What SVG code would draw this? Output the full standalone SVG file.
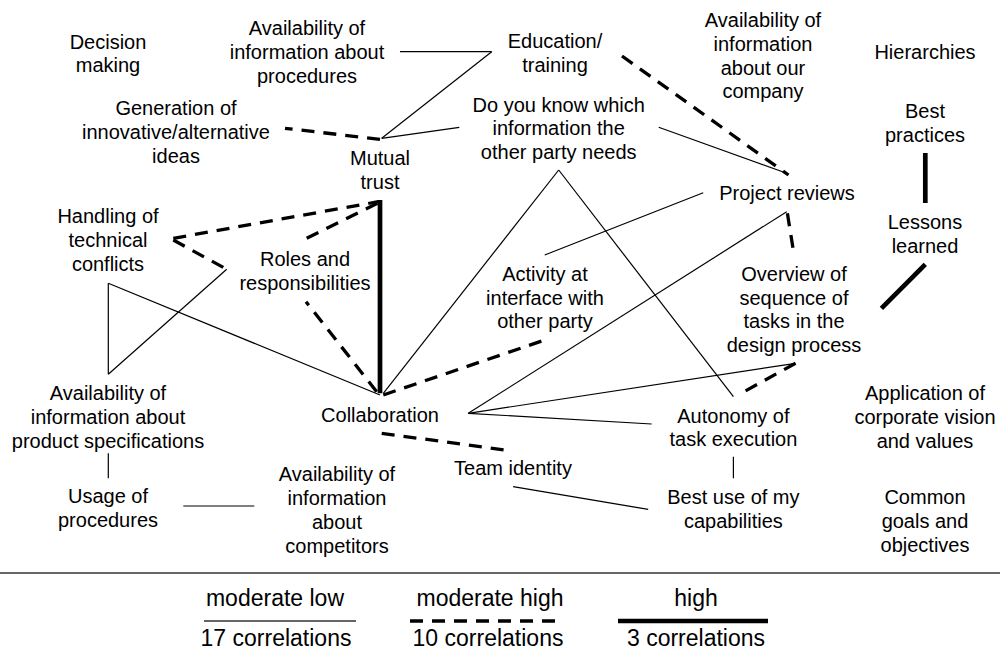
<svg xmlns="http://www.w3.org/2000/svg" width="1000" height="650" viewBox="0 0 1000 650">
<style>
text{font-family:"Liberation Sans",Arial,sans-serif;font-size:20px;fill:#000;text-anchor:middle}
.lg{font-size:23px}
.low{stroke:#000;stroke-width:1.2;fill:none}
.mid{stroke:#000;stroke-width:3.3;stroke-dasharray:13 9;fill:none}
.high{stroke:#000;stroke-width:4.7;fill:none}
</style>
<rect width="1000" height="650" fill="#fff"/>
<g id="connectors">
<line class="low" x1="400" y1="51.7" x2="491.7" y2="51.7"/>
<line class="low" x1="491.7" y1="51.7" x2="381.7" y2="138.3"/>
<line class="low" x1="381.7" y1="138.3" x2="459.3" y2="127.3"/>
<line class="low" x1="658.7" y1="127.3" x2="786.7" y2="173.3"/>
<line class="low" x1="558.7" y1="170" x2="383.3" y2="393.3"/>
<line class="low" x1="558.7" y1="170" x2="733.4" y2="396.7"/>
<line class="low" x1="544.7" y1="255" x2="703.2" y2="192.7"/>
<line class="low" x1="468.3" y1="413.3" x2="786.7" y2="211.7"/>
<line class="low" x1="468.3" y1="413.3" x2="795.5" y2="363.3"/>
<line class="low" x1="468.3" y1="413.3" x2="651.7" y2="424"/>
<line class="low" x1="513.1" y1="486.7" x2="648.2" y2="509.3"/>
<line class="low" x1="733.4" y1="456.7" x2="733.4" y2="478.3"/>
<line class="low" x1="108.3" y1="283.3" x2="108.3" y2="374.3"/>
<line class="low" x1="108.3" y1="374.3" x2="226.7" y2="269.3"/>
<line class="low" x1="108.3" y1="283.3" x2="380" y2="395"/>
<line class="low" x1="183.3" y1="506" x2="254.3" y2="506"/>
<line class="low" x1="108.3" y1="453.3" x2="108.3" y2="478.3"/>
<line class="mid" x1="380" y1="139.3" x2="285" y2="128.3"/>
<line class="mid" x1="622" y1="56" x2="788.5" y2="175"/>
<line class="mid" x1="173.3" y1="238.3" x2="378.3" y2="201.7"/>
<line class="mid" x1="306.7" y1="238.3" x2="378" y2="203"/>
<line class="mid" x1="173.3" y1="240" x2="226.7" y2="269.3"/>
<line class="mid" x1="376.7" y1="391.7" x2="306" y2="301.7"/>
<line class="mid" x1="383.3" y1="395" x2="544.7" y2="340"/>
<line class="mid" x1="787.4" y1="213.3" x2="793" y2="248.3"/>
<line class="mid" x1="795.5" y1="363.3" x2="741.1" y2="393.3"/>
<line class="mid" x1="381.7" y1="433.3" x2="509.6" y2="450.7"/>
<line class="high" x1="380" y1="200" x2="380" y2="393.3"/>
<line class="high" x1="925.3" y1="153" x2="925.3" y2="203"/>
<line class="high" x1="925.3" y1="264.3" x2="881.4" y2="308.3"/>
</g>
<g id="decision-making"><text x="108" y="49">Decision</text><text x="108" y="72">making</text></g>
<g id="avail-procedures"><text x="307" y="35">Availability of</text><text x="307" y="59">information about</text><text x="307" y="83">procedures</text></g>
<g id="education"><text x="555" y="48">Education/</text><text x="555" y="72">training</text></g>
<g id="avail-company"><text x="763" y="27">Availability of</text><text x="763" y="51">information</text><text x="763" y="75">about our</text><text x="763" y="98">company</text></g>
<g id="hierarchies"><text x="925" y="59">Hierarchies</text></g>
<g id="generation"><text x="176" y="115">Generation of</text><text x="176" y="139">innovative/alternative</text><text x="176" y="163">ideas</text></g>
<g id="do-you-know"><text x="558.7" y="112">Do you know which</text><text x="558.7" y="135">information the</text><text x="558.7" y="159">other party needs</text></g>
<g id="best-practices"><text x="925" y="118">Best</text><text x="925" y="142">practices</text></g>
<g id="mutual-trust"><text x="380" y="165">Mutual</text><text x="380" y="189">trust</text></g>
<g id="project-reviews"><text x="787" y="200">Project reviews</text></g>
<g id="handling"><text x="108" y="223">Handling of</text><text x="108" y="247">technical</text><text x="108" y="271">conflicts</text></g>
<g id="lessons"><text x="925" y="229">Lessons</text><text x="925" y="253">learned</text></g>
<g id="roles"><text x="305" y="266">Roles and</text><text x="305" y="290">responsibilities</text></g>
<g id="activity"><text x="545" y="281">Activity at</text><text x="545" y="305">interface with</text><text x="545" y="328">other party</text></g>
<g id="overview"><text x="794" y="281">Overview of</text><text x="794" y="305">sequence of</text><text x="794" y="328">tasks in the</text><text x="794" y="352">design process</text></g>
<g id="avail-product"><text x="108" y="400">Availability of</text><text x="108" y="424">information about</text><text x="108" y="448">product specifications</text></g>
<g id="collaboration"><text x="380" y="422">Collaboration</text></g>
<g id="application"><text x="925" y="400">Application of</text><text x="925" y="424">corporate vision</text><text x="925" y="448">and values</text></g>
<g id="autonomy"><text x="733.4" y="422.5">Autonomy of</text><text x="733.4" y="446">task execution</text></g>
<g id="team-identity"><text x="513" y="475">Team identity</text></g>
<g id="usage"><text x="108" y="503">Usage of</text><text x="108" y="527">procedures</text></g>
<g id="avail-competitors"><text x="337" y="481">Availability of</text><text x="337" y="505">information</text><text x="337" y="529">about</text><text x="337" y="553">competitors</text></g>
<g id="best-use"><text x="733.4" y="504">Best use of my</text><text x="733.4" y="528">capabilities</text></g>
<g id="common-goals"><text x="925" y="504">Common</text><text x="925" y="528">goals and</text><text x="925" y="552">objectives</text></g>
<g id="legend">
<line x1="0" y1="573" x2="1000" y2="573" stroke="#333" stroke-width="1.6"/>
<text class="lg" x="275" y="606">moderate low</text>
<line x1="204" y1="621" x2="356" y2="621" stroke="#333" stroke-width="1.5"/>
<text class="lg" x="276" y="646">17 correlations</text>
<text class="lg" x="490" y="606">moderate high</text>
<line class="mid" x1="410" y1="621" x2="562" y2="621"/>
<text class="lg" x="488" y="646">10 correlations</text>
<text class="lg" x="696" y="606">high</text>
<line class="high" x1="618" y1="621" x2="768" y2="621"/>
<text class="lg" x="696" y="646">3 correlations</text>
</g>
</svg>
